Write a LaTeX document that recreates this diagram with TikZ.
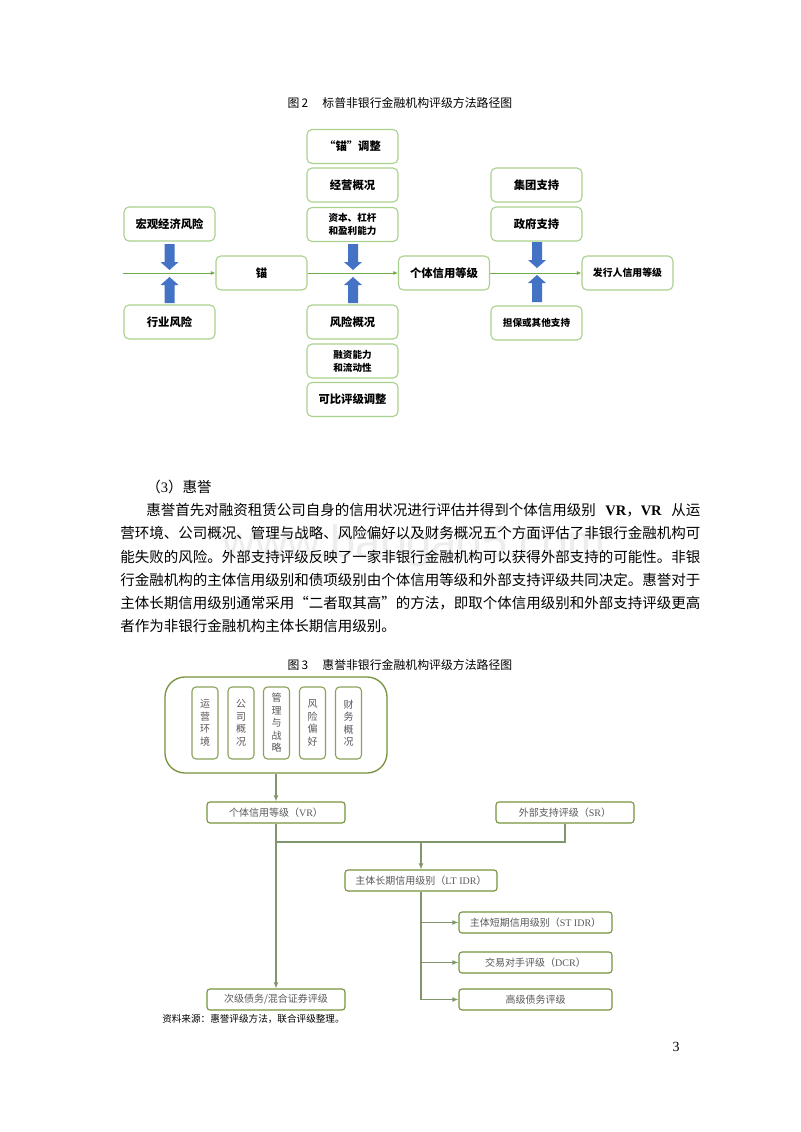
\documentclass[tikz,border=0pt]{standalone}
\usepackage{fontspec}
\setmainfont{Liberation Serif}
\newfontfamily\cjk{Noto Sans CJK SC}
\newfontfamily\wmfont{Liberation Sans}
\usetikzlibrary{arrows.meta}
\definecolor{boxgreen}{RGB}{169,209,142}
\definecolor{linegreen}{RGB}{112,173,71}
\definecolor{arrblue}{RGB}{68,114,196}
\definecolor{fgreen}{RGB}{118,146,60}
\definecolor{fline}{RGB}{128,150,108}
\definecolor{ftext}{RGB}{89,89,89}
\newdimen\px \px=0.75pt
\newcommand\bluedown[3]{%
 \fill[arrblue] (#1-5,#2) -- (#1+5,#2) -- (#1+5,#3-8) -- (#1+9,#3-8) -- (#1,#3) -- (#1-9,#3-8) -- (#1-5,#3-8) -- cycle;}
\newcommand\blueup[3]{%
 \fill[arrblue] (#1-5,#2) -- (#1+5,#2) -- (#1+5,#3+8) -- (#1+9,#3+8) -- (#1,#3) -- (#1-9,#3+8) -- (#1-5,#3+8) -- cycle;}
\newcommand\myLq{\makebox[1em][r]{“}}
\newcommand\myRq{\makebox[1em][l]{”}}
\begin{document}
\begin{tikzpicture}[x=0.75pt,y=-0.75pt,
  sbox/.style={draw=boxgreen, line width=1.1\px, rounded corners=5\px, fill=white,
    font=\cjk\bfseries\fontsize{8.5pt}{10.5pt}\selectfont, align=center, inner sep=0pt,
    minimum width=91\px, minimum height=34\px},
  ssmall/.style={sbox, font=\cjk\bfseries\fontsize{7.2pt}{9.5pt}\selectfont},
  gline/.style={draw=linegreen, line width=0.8\px, -{Latex[length=3.5pt,width=3pt]}},
  ftitle/.style={font=\cjk\fontsize{8.9pt}{10pt}\selectfont, inner sep=0pt},
  para/.style={anchor=west, inner sep=0pt, font=\cjk\fontsize{10.875pt}{12pt}\selectfont},
  gbox/.style={draw=fgreen, line width=1.1\px, rounded corners=3\px, fill=white, text=ftext,
    font=\cjk\fontsize{7.5pt}{9pt}\selectfont, inner sep=0pt, minimum height=21\px},
  obox/.style={draw=fgreen, line width=1.3\px, rounded corners=20\px, inner sep=0pt,
    minimum width=222\px, minimum height=96\px},
  vbox/.style={draw=fgreen!85, line width=1.1\px, rounded corners=4\px, minimum width=26\px,
    minimum height=72\px, align=center, font=\cjk\fontsize{7.5pt}{9.4pt}\selectfont,
    text=ftext, inner sep=0pt},
  fconn/.style={draw=fline, line width=1.1\px},
  farr/.style={fconn, -{Latex[length=4.5pt,width=3.6pt]}}
]
\fill[white] (0,0) rectangle (800,1132);
\useasboundingbox (0,0) rectangle (800,1132);

% watermark
\node[text=black!7, font=\wmfont\fontsize{34pt}{36pt}\selectfont, inner sep=0pt] (wm) at (414,546) {www.baogao5.com};

% ---------- Figure 2 ----------
\node[ftitle] (t2) at (400,103) {图\,2\hspace{1.2em}标普非银行金融机构评级方法路径图};

\node[sbox] (macro) at (169.5,224) {宏观经济风险};
\node[sbox] (indus) at (169.5,322) {行业风险};
\node[sbox] (anchor) at (261.5,273) {锚};
\node[sbox] (adj) at (352.5,146.5) {“锚”调整};
\node[sbox] (biz) at (352.5,185) {经营概况};
\node[ssmall] (cap) at (352.5,224.5) {资本、杠杆\\和盈利能力};
\node[sbox] (risk) at (352.5,322) {风险概况};
\node[ssmall] (fund) at (352.5,361) {融资能力\\和流动性};
\node[sbox] (comp) at (352.5,399.5) {可比评级调整};
\node[sbox] (sacp) at (444,273) {个体信用等级};
\node[sbox] (grp) at (536.5,185) {集团支持};
\node[sbox] (gov) at (536.5,224) {政府支持};
\node[ssmall] (guar) at (536.5,323) {担保或其他支持};
\node[ssmall, font=\cjk\bfseries\fontsize{7.4pt}{9.5pt}\selectfont] (icr) at (627.5,273) {发行人信用等级};

\coordinate (lstart) at (123,273);
\draw[gline] (lstart) -- (anchor.west);
\draw[gline] (anchor.east) -- (sacp.west);
\draw[gline] (sacp.east) -- (icr.west);

\bluedown{169.5}{244}{270}
\blueup{169.5}{303}{277}
\bluedown{353}{244}{270}
\blueup{353}{303}{277}
\bluedown{537}{242}{268}
\blueup{537}{302}{275}

% ---------- Text ----------
\node[para] (l0) at (146,487) {（{\rmfamily 3}）惠誉};
\node[para] (l1) at (146,510) {\hbox to 554\px{惠誉首先对融资租赁公司自身的信用状况进行评估并得到个体信用级别 {\rmfamily\bfseries VR}，{\rmfamily\bfseries VR} 从运}};
\node[para] (l2) at (120,533) {营环境、公司概况、管理与战略、风险偏好以及财务概况五个方面评估了非银行金融机构可};
\node[para] (l3) at (120,557) {能失败的风险。外部支持评级反映了一家非银行金融机构可以获得外部支持的可能性。非银};
\node[para] (l4) at (120,580) {行金融机构的主体信用级别和债项级别由个体信用等级和外部支持评级共同决定。惠誉对于};
\node[para] (l5) at (120,603) {主体长期信用级别通常采用\myLq 二者取其高\myRq 的方法，即取个体信用级别和外部支持评级更高};
\node[para] (l6) at (120,626) {者作为非银行金融机构主体长期信用级别。};

% ---------- Figure 3 ----------
\node[ftitle] (t3) at (400,665) {图\,3\hspace{1.2em}惠誉非银行金融机构评级方法路径图};

\node[obox] (outer) at (276,725) {};
\node[vbox] (v1) at (205,723) {运\\营\\环\\境};
\node[vbox] (v2) at (241,723) {公\\司\\概\\况};
\node[vbox] (v3) at (276.5,723) {管\\理\\与\\战\\略};
\node[vbox] (v4) at (312.5,723) {风\\险\\偏\\好};
\node[vbox] (v5) at (348.5,723) {财\\务\\概\\况};

\node[gbox, minimum width=138\px] (vr) at (276,812.5) {个体信用等级（{\rmfamily VR}）};
\node[gbox, minimum width=138\px] (sr) at (565,812.5) {外部支持评级（{\rmfamily SR}）};
\node[gbox, minimum width=152\px] (lt) at (421,880.5) {主体长期信用级别（{\rmfamily LT IDR}）};
\node[gbox, minimum width=153\px] (st) at (535.5,922.5) {主体短期信用级别（{\rmfamily ST IDR}）};
\node[gbox, minimum width=153\px] (dcr) at (535.5,962.5) {交易对手评级（{\rmfamily DCR}）};
\node[gbox, minimum width=153\px] (snr) at (535.5,999.5) {高级债务评级};
\node[gbox, minimum width=138\px] (sub) at (276,999.5) {次级债务/混合证券评级};

\coordinate (join) at (276,842);
\draw[farr] (outer.south) -- (vr.north);
\draw[farr] (vr.south) -- (sub.north);
\draw[fconn] (sr.south) |- (join);
\draw[farr] (lt.north |- join) -- (lt.north);
\draw[farr] (lt.south) |- (st.west);
\draw[farr] (lt.south) |- (dcr.west);
\draw[farr] (lt.south) |- (snr.west);

\node[anchor=west, inner sep=0pt, font=\cjk\fontsize{7.2pt}{9pt}\selectfont] (src) at (162,1019) {资料来源：惠誉评级方法，联合评级整理。};

\node[inner sep=0pt, font=\fontsize{10.5pt}{12pt}\selectfont] (pg) at (676,1047) {3};
\end{tikzpicture}
\end{document}
